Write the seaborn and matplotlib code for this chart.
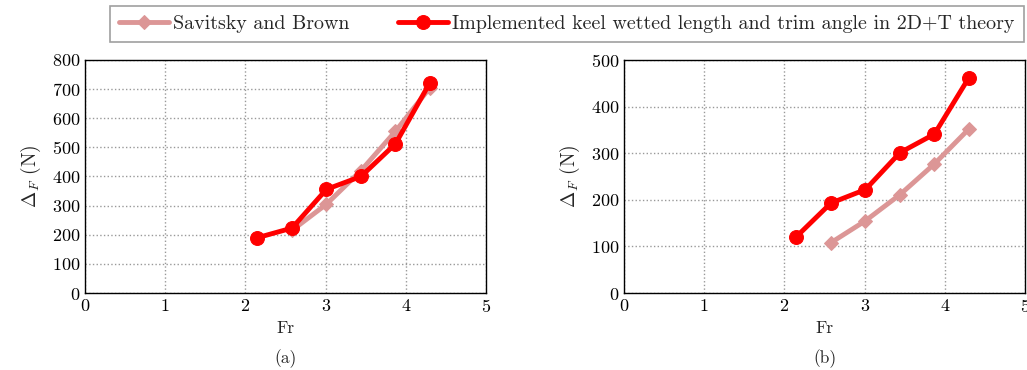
import numpy as np
import pandas as pd
import matplotlib
matplotlib.use("Agg")
import matplotlib.pyplot as plt
import seaborn as sns

# (a)
fr_sb_a = [2.58, 3.01, 3.44, 3.87, 4.30]
df_sb_a = [215, 305, 420, 555, 705]
fr_2d_a = [2.15, 2.58, 3.01, 3.44, 3.87, 4.30]
df_2d_a = [190, 223, 356, 400, 512, 722]

# (b)
fr_sb_b = [2.58, 3.01, 3.44, 3.87, 4.30]
df_sb_b = [108, 155, 211, 277, 352]
fr_2d_b = [2.15, 2.58, 3.01, 3.44, 3.87, 4.30]
df_2d_b = [121, 193, 222, 301, 341, 462]

lbl_sb = "Savitsky and Brown"
lbl_2d = "Implemented keel wetted length and trim angle in 2D+T theory"

sns.set_style("white")
plt.rcParams['font.family'] = ['serif']
plt.rcParams['font.serif'] = ['cmr10', 'DejaVu Serif']
plt.rcParams['mathtext.fontset'] = 'cm'
plt.rcParams['axes.formatter.use_mathtext'] = True

pink = '#dc9696'
red = '#ff0000'

fig = plt.figure(figsize=(10.27, 3.70), dpi=100)
ax1 = fig.add_axes([0.0828, 0.208, 0.3905, 0.630])
ax2 = fig.add_axes([0.6076, 0.208, 0.3905, 0.630])


def draw(ax, xs, ys, xr, yr, ymax, ystep, tag):
    sns.lineplot(x=xs, y=ys, ax=ax, color=pink, lw=3.5, marker='D',
                 markersize=7, markeredgecolor=pink, label=lbl_sb, legend=False)
    sns.lineplot(x=xr, y=yr, ax=ax, color=red, lw=3.5, marker='o',
                 markersize=10, markeredgecolor=red, label=lbl_2d, legend=False)
    ax.set_xlim(0, 5)
    ax.set_ylim(0, ymax)
    ax.set_xticks(range(0, 6))
    ax.set_yticks(np.arange(0, ymax + 1, ystep))
    ax.grid(True, color='#999999', linestyle=':', linewidth=1.0)
    ax.tick_params(direction='in', length=3, labelsize=13, colors='black')
    for s in ax.spines.values():
        s.set_color('black')
        s.set_linewidth(1.0)
    ax.set_xlabel("Fr", fontsize=12.5, labelpad=4)
    ax.set_ylabel(r"$\Delta_F$ (N)", fontsize=14, labelpad=6)
    ax.text(0.5, -0.28, tag, transform=ax.transAxes, ha='center', va='center',
            fontsize=12.5)


draw(ax1, fr_sb_a, df_sb_a, fr_2d_a, df_2d_a, 800, 100, "(a)")
draw(ax2, fr_sb_b, df_sb_b, fr_2d_b, df_2d_b, 500, 100, "(b)")

h, l = ax1.get_legend_handles_labels()
leg = fig.legend(h, l, loc='center', bbox_to_anchor=(0.552, 0.935), ncol=2,
                 fontsize=14.4, frameon=True, fancybox=False, columnspacing=2.45,
                 handlelength=2.5, handletextpad=0.2, borderpad=0.45)
leg.get_frame().set_edgecolor('#888888')
leg.get_frame().set_linewidth(1.2)

fig.savefig("out.png", dpi=100)
